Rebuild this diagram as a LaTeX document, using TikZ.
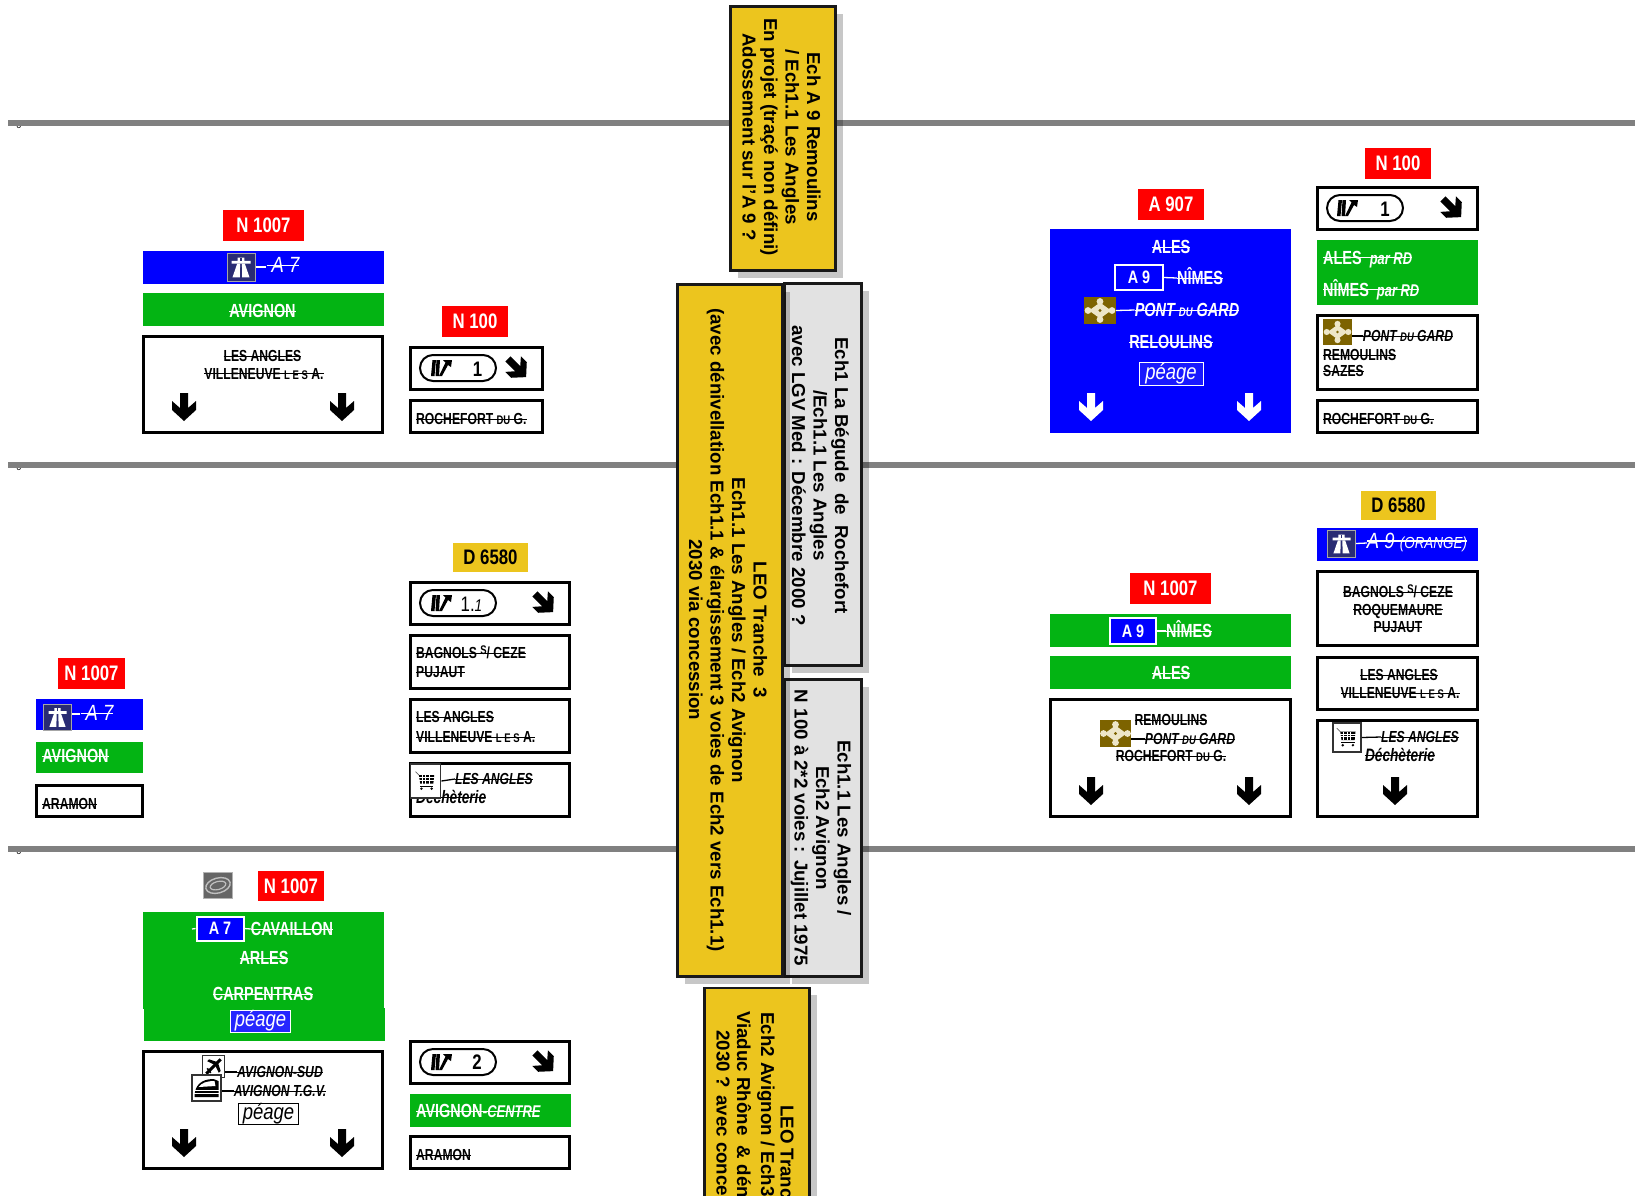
\documentclass[tikz,border=0pt]{standalone}
\usepackage{fontspec}
\usepackage{tikz}
\usetikzlibrary{shadows}

\setmainfont{Liberation Sans}
\newfontfamily\signfont[FakeStretch=.76]{Liberation Sans}
\newfontfamily\platefont[FakeStretch=.8]{Liberation Sans}
\newfontfamily\peagefont[FakeStretch=.84]{Liberation Sans}
\newsavebox{\strkbox}
\newcommand{\strk}[1]{\sbox{\strkbox}{#1}\rlap{\rule[.3em]{\wd\strkbox}{1.3pt}}\usebox{\strkbox}}
\newcommand{\tinysign}[1]{{\fontsize{12.5}{12.5}\selectfont #1}}
\newcommand{\bytext}[1]{{\itshape\fontsize{17}{17}\selectfont #1}}

\definecolor{roadred}{HTML}{FF0000}
\definecolor{roadyellow}{HTML}{ECC51E}
\definecolor{signblue}{HTML}{0000FF}
\definecolor{signgreen}{HTML}{03B413}
\definecolor{railgrey}{HTML}{808080}
\definecolor{notegrey}{HTML}{E2E2E2}
\definecolor{motorwaynavy}{HTML}{2A2C74}
\definecolor{gardbrown}{HTML}{7D6300}
\definecolor{gardcream}{HTML}{EDE6C8}

\tikzset{
  size/.style 2 args={minimum width=#1pt, minimum height=#2pt, inner sep=0pt},
  rail/.style={draw=railgrey, line width=6pt},
  redplate/.style={fill=roadred, text=white, font=\platefont\bfseries\fontsize{21}{21}\selectfont},
  yellowplate/.style={fill=roadyellow, text=black, font=\platefont\bfseries\fontsize{21}{21}\selectfont},
  bluebar/.style={fill=signblue},
  greenbar/.style={fill=signgreen},
  panel/.style={draw=black, fill=white, line width=3pt},
  bigsign/.style={inner sep=0pt, text height=13.6pt, font=\signfont\bfseries\fontsize{19}{19}\selectfont},
  thinsign/.style={inner sep=0pt, text height=13.6pt, font=\peagefont\itshape\fontsize{22}{22}\selectfont},
  smallsign/.style={inner sep=0pt, text height=11.5pt, font=\signfont\bfseries\fontsize{16}{16}\selectfont},
  pill/.style={draw=black, line width=2pt, rounded corners=13pt},
  exitnum/.style={inner sep=0pt, font=\platefont\bfseries\fontsize{21}{21}\selectfont},
  peage/.style={draw=#1, line width=.8pt, font=\peagefont\itshape\fontsize{22}{22}\selectfont},
  numbox/.style={line width=2pt, font=\platefont\bfseries\fontsize{18}{18}\selectfont},
  motorwaybox/.style={fill=motorwaynavy, draw=black!35, line width=1pt},
  gardbox/.style={fill=gardbrown},
  iconbox/.style={fill=white, draw=black!80, line width=1.5pt},
  yellownote/.style={fill=roadyellow, draw=black!90, line width=2.6pt,
    drop shadow={shadow xshift=7pt, shadow yshift=-7pt, fill=black, opacity=.22}},
  greynote/.style={fill=notegrey, draw=black!90, line width=2.6pt,
    drop shadow={shadow xshift=7pt, shadow yshift=-7pt, fill=black, opacity=.22}},
  notetext/.style={rotate=-90, align=center, inner sep=0pt, font=\bfseries\fontsize{18.7}{21.5}\selectfont},
  signarrow/.pic={
    \path [pic actions] (-4,-14) -- (4,-14) -- (4,1) -- (12,-6) -- (12,3) -- (0,14) -- (-12,3) -- (-12,-6) -- (-4,1) -- cycle;
  },
  exitmark/.pic={
    \fill [black] (-11,8) -- (-7.5,8) -- (-6,-8) -- (-9.5,-8) -- cycle;
    \fill [black] (-6.5,8) -- (-3,8) -- (-2,-8) -- (-5.5,-8) -- cycle;
    \fill [black] (-3,8) -- (0,8) -- (6,-3) -- (9,-1) -- (10,-8) -- (1,-8) -- (3.5,-5.5) -- cycle;
  },
  motorwaymark/.pic={
    \fill [white] (-3.5,-10) -- (3.5,-10) -- (3.5,-6.5) -- (10,-6.5) -- (10,-3.5) -- (-10,-3.5) -- (-10,-6.5) -- (-3.5,-6.5) -- cycle;
    \fill [white] (-4,-3.5) -- (-1,-3.5) -- (-1.2,11) -- (-9,11) -- cycle;
    \fill [white] (4,-3.5) -- (1,-3.5) -- (1.2,11) -- (9,11) -- cycle;
    \fill [motorwaynavy] (-.8,-10) rectangle (.8,-6.5);
  },
  gardmark/.pic={
    \fill [gardcream] (0,-8) -- (11,0) -- (0,8) -- (-11,0) -- cycle;
    \foreach \px/\py in {0/-9,0/9,-12/0,12/0} \fill [gardcream] (\px,\py) circle (3.4);
    \fill [gardbrown] (0,0) circle (1.6);
  },
  cartmark/.pic={
    \draw [black!60, line width=.6pt] (-12,-11) -- (-8,-7);
    \fill [black] (-8,-7) -- (10,-7) -- (9,3) -- (-6.5,3) -- cycle;
    \foreach \gx in {-4,0,4} \draw [white, line width=.6pt] (\gx,-7) -- (\gx,3);
    \foreach \gy in {-4,-1} \draw [white, line width=.6pt] (-8,\gy) -- (10,\gy);
    \draw [black, line width=1.2pt] (-6.5,6) -- (9,6);
    \fill [black] (-5,9) circle (1.6) (7,9) circle (1.6);
  },
  planemark/.pic={
    \draw [black, line width=3pt] (-8,8) -- (8,-8);
    \fill [black] (1,-2) -- (-7,-6) -- (-5,-8) -- (4,-5) -- cycle;
    \fill [black] (2,-1) -- (6,7) -- (8,5) -- (5,-4) -- cycle;
    \draw [black, line width=1.6pt] (-7,2) -- (-3,7);
  },
  trainmark/.pic={
    \fill [black] (-12,9) .. controls (-12,-3) and (-5,-9) .. (7,-9) -- (12,-7) -- (12,9) -- cycle;
    \fill [white] (-8,-1) .. controls (-5,-5) and (0,-7) .. (8,-7) -- (9,-2) -- cycle;
    \draw [white, line width=1pt] (-13,2) -- (13,2);
    \draw [white, line width=1pt] (-13,5.5) -- (13,5.5);
  },
  ringmark/.pic={
    \draw [black!25, line width=1.4pt, rotate=15] (0,0) ellipse (12.5 and 7.5);
    \draw [black!25, line width=1.2pt, rotate=15] (0,0) ellipse (8 and 4);
  }
}

\begin{document}
\begin{tikzpicture}[x=1pt, y=-1pt]
    \useasboundingbox (0,0) rectangle (1635,1195);
    \clip (0,0) rectangle (1635,1195);

    % grey lines
    \foreach \ry/\rname in {123/r1, 465/r2, 849/r3} {
      \node (\rname z) [font=\fontsize{9}{9}\selectfont, inner sep=0pt] at (19,\ry+2.5) {0};
      \coordinate (\rname a) at (8,\ry);
      \coordinate (\rname b) at (1635,\ry);
      \draw [rail] (\rname a) -- (\rname b);
    }

    % centre notes
    \node (noteB) [greynote, size={77}{382}] at (823,474.5) {};
    \node (noteC) [greynote, size={77}{297}] at (823,828) {};
    \node (noteA) [yellownote, size={105}{264}] at (783,138.5) {};
    \node (noteD) [yellownote, size={105}{692}] at (730,630.5) {};
    \node (noteE) [yellownote, size={105}{312}] at (757,1144) {};
    \node (textA) [notetext] at (781.5,137) {Ech A 9 Remoulins\\/ Ech1.1 Les Angles\\En projet (traçé non défini)\\Adossement sur l'A 9 ?};
    \node (textB) [notetext] at (820.5,475.5) {Ech1 La Bégude\ \ de\ \ Rochefort\\/Ech1.1 Les Angles\\avec LGV Med : Décembre 2000 ?};
    \node (textC) [notetext] at (821,828) {Ech1.1 Les Angles /\\Ech2 Avignon\\N 100 à 2*2 voies : Jujillet 1975};
    \node (textD) [notetext] at (728,630) {LEO Tranche\ \ 3\\Ech1.1 Les Angles / Ech2 Avignon\\(avec dénivellation Ech1.1 \& élargissement 3 voies de Ech2 vers Ech1.1)\\2030 via concession};
    \node (textE1) [notetext, anchor=west] at (787,1105) {LEO Tranc};
    \node (textE2) [notetext, anchor=west] at (766,1012) {Ech2 Avignon / Ech3};
    \node (textE3) [notetext, anchor=west] at (744,1011) {Viaduc Rhône\ \ \& déni};
    \node (textE4) [notetext, anchor=west] at (723,1030) {2030 ? avec conce};

    % top left
    \node (tlPlate) [redplate, size={81}{31}] at (263.5,225.5) {N 1007};
    \node (tlBlue) [bluebar, size={241}{33}] at (263.5,267.5) {};
    \node (tlMway) [motorwaybox, size={28}{28}] at (241,267) {};
    \pic [scale=.95] at (tlMway) {motorwaymark};
    \node (tlA7) [thinsign, text=white] at (283,266) {\strk{\ A\ 7}};
    \draw [white, line width=1.3pt] (tlMway.east) -- (tlA7.west |- tlMway.east);
    \node (tlGreen) [greenbar, size={241}{33}] at (263.5,309.5) {};
    \node (tlAvignon) [bigsign, text=white] at (262.5,311) {\strk{AVIGNON}};
    \node (tlPanel) [panel, size={239}{96}] at (263,384.5) {};
    \node (tlAngles) [smallsign] at (262.5,356) {\strk{LES ANGLES}};
    \node (tlVille) [smallsign] at (264,373.5) {\strk{VILLENEUVE \tinysign{L E S} A.}};
    \pic [fill=black] at (184,407) {signarrow};
    \pic [fill=black] at (342,407) {signarrow};

    \node (tlExitPlate) [redplate, size={66}{31}] at (475,321.5) {N 100};
    \node (tlExit) [panel, size={132}{42}] at (476.5,368.5) {};
    \node (tlPill) [pill, size={76}{26}] at (458,368) {};
    \pic at (442,368) {exitmark};
    \node (tlNum) [exitnum] at (477.6,369) {1};
    \pic [fill=black, rotate=45, scale=.92] at (517,368) {signarrow};
    \node (tlRoch) [panel, size={132}{32}] at (476.5,416.5) {};
    \node (tlRochText) [smallsign, anchor=west] at (416,419) {\strk{ROCHEFORT \tinysign{DU} G.}};

    % top right
    \node (trPlate) [redplate, size={66}{31}] at (1171,204.5) {A 907};
    \node (trBlue) [bluebar, size={241}{204}] at (1170.5,331) {};
    \node (trAles) [bigsign, text=white] at (1171,247) {\strk{ALES}};
    \node (trA9) [numbox, draw=white, text=white, size={48}{25}] at (1139,277.5) {A\ 9};
    \node (trNimes) [bigsign, text=white] at (1200,278) {\strk{NÎMES}};
    \draw [white, line width=1.3pt] (trA9.east) -- (trNimes.west);
    \node (trGard) [gardbox, size={32}{27}] at (1100,310.5) {};
    \pic at (trGard) {gardmark};
    \node (trPont) [bigsign, text=white] at (1187,310) {\itshape\strk{PONT \tinysign{DU} GARD}};
    \draw [white, line width=1.3pt] (trGard.east) -- (trPont.west);
    \node (trRel) [bigsign, text=white] at (1171,342) {\strk{RELOULINS}};
    \node (trPeage) [peage=white, fill=signblue!90!white, text=white, size={64}{23}] at (1171,373.5) {péage};
    \pic [fill=white] at (1091,407) {signarrow};
    \pic [fill=white] at (1249,407) {signarrow};

    \node (trExitPlate) [redplate, size={66}{31}] at (1398,163.5) {N 100};
    \node (trExit) [panel, size={160}{42}] at (1397.5,208.5) {};
    \node (trPill) [pill, size={76}{26}] at (1365,208) {};
    \pic at (1348,208) {exitmark};
    \node (trNum) [exitnum] at (1385,209) {1};
    \pic [fill=black, rotate=45, scale=.92] at (1452,208) {signarrow};
    \node (trGreen) [greenbar, size={161}{65}] at (1397.5,272.5) {};
    \node (trAlesRd) [bigsign, text=white, anchor=west] at (1323,259) {\strk{ALES\ \ \bytext{par\ RD}}};
    \node (trNimesRd) [bigsign, text=white, anchor=west] at (1323,291) {\strk{NÎMES\ \ \bytext{par\ RD}}};
    \node (trPanel) [panel, size={160}{74}] at (1397.5,352.5) {};
    \node (trGard2) [gardbox, size={29}{26}] at (1337.5,332) {};
    \pic [scale=.9] at (trGard2) {gardmark};
    \node (trPont2) [smallsign] at (1408,336) {\itshape\strk{PONT \tinysign{DU} GARD}};
    \draw [black, line width=1.3pt] (trGard2.east |- trPont2.west) -- (trPont2.west);
    \node (trRem) [smallsign, anchor=west] at (1323,355) {\strk{REMOULINS}};
    \node (trSazes) [smallsign, anchor=west] at (1323,371) {\strk{SAZES}};
    \node (trRoch) [panel, size={160}{32}] at (1397.5,416.5) {};
    \node (trRochText) [smallsign, anchor=west] at (1323,419) {\strk{ROCHEFORT \tinysign{DU} G.}};

    % middle left
    \node (mlPlate) [redplate, size={67}{31}] at (91.5,673.5) {N 1007};
    \node (mlBlue) [bluebar, size={107}{31}] at (89.5,714.5) {};
    \node (mlMway) [motorwaybox, size={28}{26}] at (57.5,717) {};
    \pic [scale=.9] at (mlMway) {motorwaymark};
    \node (mlA7) [thinsign, text=white] at (97,714) {\strk{\ A\ 7}};
    \draw [white, line width=1.3pt] (mlMway.east |- mlA7.west) -- (mlA7.west);
    \node (mlGreen) [greenbar, size={107}{31}] at (89.5,757.5) {};
    \node (mlAvignon) [bigsign, text=white] at (75.5,756) {\strk{AVIGNON}};
    \node (mlPanel) [panel, size={106}{31}] at (89.5,801) {};
    \node (mlAramon) [smallsign, anchor=west] at (42,804) {\strk{ARAMON}};

    \node (mlYellow) [yellowplate, size={75}{29}] at (490.5,557.5) {D 6580};
    \node (mlExit) [panel, size={159}{42}] at (490,603.5) {};
    \node (mlPill) [pill, size={76}{26}] at (458,603) {};
    \pic at (442,603) {exitmark};
    \node (mlNum) [inner sep=0pt, font=\platefont\fontsize{21}{21}\selectfont] at (471.5,604) {1.{\itshape\fontsize{17}{17}\selectfont 1}};
    \pic [fill=black, rotate=45, scale=.92] at (544,603) {signarrow};
    \node (mlBox1) [panel, size={159}{53}] at (490,662) {};
    \node (mlBag) [smallsign, anchor=west] at (416,653) {\strk{BAGNOLS \raisebox{4pt}{\tinysign{S}}/ CEZE}};
    \node (mlPuj) [smallsign, anchor=west] at (416,672) {\strk{PUJAUT}};
    \node (mlBox2) [panel, size={159}{53}] at (490,726) {};
    \node (mlAngles) [smallsign, anchor=west] at (416,717) {\strk{LES ANGLES}};
    \node (mlVille) [smallsign, anchor=west] at (416,737) {\strk{VILLENEUVE \tinysign{L E S} A.}};
    \node (mlBox3) [panel, size={159}{53}] at (490,790) {};
    \node (mlDech) [smallsign, font=\signfont\bfseries\fontsize{18}{18}\selectfont, anchor=west] at (416,798) {\itshape\strk{Déchèterie}};
    \node (mlCart) [iconbox, size={30}{34}] at (425.7,781) {};
    \pic [scale=.85] at (mlCart) {cartmark};
    \node (mlAngles2) [smallsign] at (494,779) {\itshape\strk{LES ANGLES}};
    \draw [black, line width=1.3pt] (mlCart.east) -- (mlAngles2.west);

    % middle right
    \node (mrPlate) [redplate, size={81}{31}] at (1170.5,588.5) {N 1007};
    \node (mrGreen) [greenbar, size={241}{33}] at (1170.5,630.5) {};
    \node (mrA9) [numbox, fill=signblue, draw=white, text=white, size={46}{26}] at (1133,631) {A\ 9};
    \node (mrNimes) [bigsign, text=white] at (1189,631) {\strk{NÎMES}};
    \draw [white, line width=1.3pt] (mrA9.east) -- (mrNimes.west);
    \node (mrGreen2) [greenbar, size={241}{33}] at (1170.5,672.5) {};
    \node (mrAles) [bigsign, text=white] at (1171,673) {\strk{ALES}};
    \node (mrPanel) [panel, size={240}{117}] at (1170.5,758) {};
    \node (mrRem) [smallsign] at (1171,720) {\strk{REMOULINS}};
    \node (mrGard) [gardbox, size={31}{27}] at (1115.5,733.5) {};
    \pic at (mrGard) {gardmark};
    \node (mrPont) [smallsign] at (1190,739) {\itshape\strk{PONT \tinysign{DU} GARD}};
    \draw [black, line width=1.3pt] (mrGard.east |- mrPont.west) -- (mrPont.west);
    \node (mrRoch) [smallsign] at (1171,756) {\strk{ROCHEFORT \tinysign{DU} G.}};
    \pic [fill=black] at (1091,791) {signarrow};
    \pic [fill=black] at (1249,791) {signarrow};

    \node (mrYellow) [yellowplate, size={75}{29}] at (1398.5,505.5) {D 6580};
    \node (mrBlue) [bluebar, size={161}{33}] at (1397.5,544.5) {};
    \node (mrMway) [motorwaybox, size={28}{27}] at (1341.5,543.5) {};
    \pic [scale=.9] at (mrMway) {motorwaymark};
    \node (mrA9o) [thinsign, text=white] at (1417,543) {\strk{A\ 9\ {\fontsize{16}{16}\selectfont (ORANGE)}}};
    \draw [white, line width=1.3pt] (mrMway.east) -- (mrA9o.west);
    \node (mrBox1) [panel, size={160}{74}] at (1397.5,608.5) {};
    \node (mrBag) [smallsign] at (1398,592) {\strk{BAGNOLS \raisebox{4pt}{\tinysign{S}}/ CEZE}};
    \node (mrRoq) [smallsign] at (1398,611) {\strk{ROQUEMAURE}};
    \node (mrPuj) [smallsign] at (1398,627) {\strk{PUJAUT}};
    \node (mrBox2) [panel, size={160}{52}] at (1397.5,683.5) {};
    \node (mrAngles) [smallsign] at (1399,675) {\strk{LES ANGLES}};
    \node (mrVille) [smallsign] at (1400,693) {\strk{VILLENEUVE \tinysign{L E S} A.}};
    \node (mrBox3) [panel, size={160}{96}] at (1397.5,768.5) {};
    \node (mrCart) [iconbox, size={28}{29}] at (1347,737.5) {};
    \pic [scale=.85] at (mrCart) {cartmark};
    \node (mrAngles2) [smallsign] at (1420,737) {\itshape\strk{LES ANGLES}};
    \draw [black, line width=1.3pt] (mrCart.east) -- (mrAngles2.west);
    \node (mrDech) [smallsign, font=\signfont\bfseries\fontsize{18}{18}\selectfont] at (1400,756) {\itshape\strk{Déchèterie}};
    \pic [fill=black] at (1395,791) {signarrow};

    % bottom
    \node (blRing) [fill=black!60, draw=black!30, line width=.8pt, size={29}{26}] at (218,885.5) {};
    \pic at (blRing) {ringmark};
    \node (blPlate) [redplate, size={66}{30}] at (291,886) {N 1007};
    \node (blGreen) [greenbar, size={241}{97}] at (263.5,960.5) {};
    \node (blGreen2) [greenbar, size={241}{33}] at (264.5,1024.5) {};
    \coordinate (blStub) at (192,929);
    \node (blA7) [numbox, fill=signblue, draw=white, text=white, size={47}{24}] at (220,928.5) {A\ 7};
    \node (blCav) [bigsign, text=white] at (292,929) {\strk{CAVAILLON}};
    \draw [white, line width=1.3pt] (blStub) -- (blA7.west);
    \draw [white, line width=1.3pt] (blA7.east) -- (blCav.west);
    \node (blArles) [bigsign, text=white] at (264,958) {\strk{ARLES}};
    \node (blCarp) [bigsign, text=white] at (263,994) {\strk{CARPENTRAS}};
    \node (blPeage) [peage=white, fill=signblue!85!white, text=white, size={60}{22}] at (260.5,1021) {péage};
    \node (blPanel) [panel, size={239}{117}] at (263,1110) {};
    \node (blSud) [smallsign] at (280,1072) {\itshape\strk{AVIGNON-SUD}};
    \node (blTgv) [smallsign] at (280,1091) {\itshape\strk{AVIGNON T.G.V.}};
    \node (blPlane) [iconbox, size={22}{22}] at (213.5,1066.5) {};
    \pic [scale=.9] at (blPlane) {planemark};
    \node (blTrain) [iconbox, size={29}{26}] at (206.5,1088) {};
    \pic at (blTrain) {trainmark};
    \draw [black, line width=1.3pt] (blPlane.east |- blSud.west) -- (blSud.west);
    \draw [black, line width=1.3pt] (blTrain.east |- blTgv.west) -- (blTgv.west);
    \node (blPeage2) [peage=black, text=black, size={60}{21}] at (268.5,1113.5) {péage};
    \pic [fill=black] at (184,1143) {signarrow};
    \pic [fill=black] at (342,1143) {signarrow};

    \node (blExit) [panel, size={159}{42}] at (490,1062.5) {};
    \node (blPill) [pill, size={76}{26}] at (458,1062) {};
    \pic at (442,1062) {exitmark};
    \node (blNum) [exitnum] at (477,1062) {2};
    \pic [fill=black, rotate=45, scale=.92] at (544,1062) {signarrow};
    \node (blGreen3) [greenbar, size={161}{33}] at (490.5,1110.5) {};
    \node (blCentre) [bigsign, text=white, anchor=west] at (416,1111) {\strk{AVIGNON-\bytext{CENTRE}}};
    \node (blBox) [panel, size={159}{32}] at (490,1152.5) {};
    \node (blAramon) [smallsign, anchor=west] at (416,1155) {\strk{ARAMON}};
\end{tikzpicture}
\end{document}
